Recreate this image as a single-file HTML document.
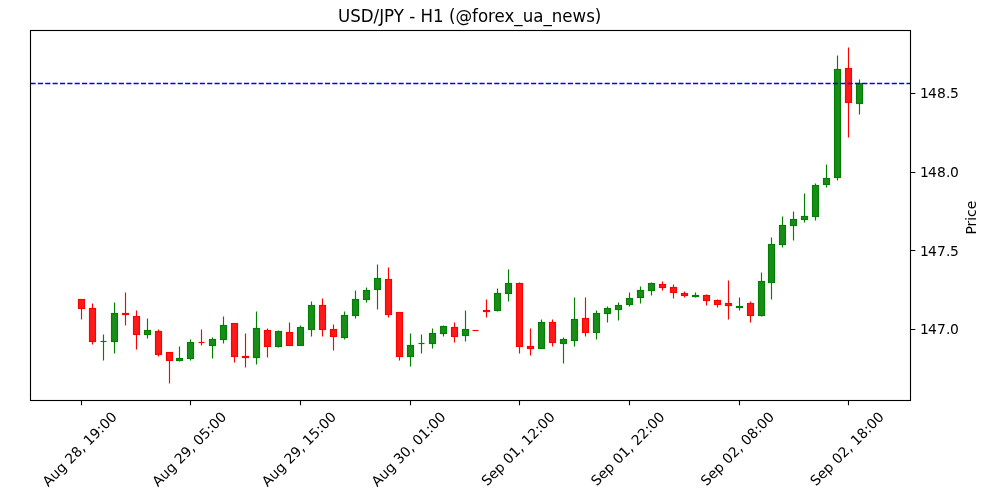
<!DOCTYPE html>
<html lang="en">
<head>
<meta charset="utf-8">
<title>USD/JPY - H1 (@forex_ua_news)</title>
<style>
html,body{margin:0;padding:0;background:#fff;}
body{width:1000px;height:500px;overflow:hidden;}
svg{display:block;will-change:transform;}
text{font-family:"DejaVu Sans", "Liberation Sans", sans-serif;fill:#000;}
.t10{font-size:13.889px;}
.t12{font-size:16.667px;}
.w{stroke-width:1.146;fill:none;}
.b{stroke-width:1.146;fill-opacity:0.9;}
.g{stroke:#008000;fill:#008000;}
.r{stroke:#ff0000;fill:#ff0000;}
.ax{stroke:#000;stroke-width:1.111;fill:none;}
</style>
</head>
<body>
<svg width="1000" height="500" viewBox="0 0 1000 500">
<rect x="0" y="0" width="1000" height="500" fill="#ffffff"/>
<g id="wicks">
<path class="w r" d="M81.5 308.5V319.5"/>
<path class="w r" d="M92.5 303.5V308.5M92.5 341.5V344.5"/>
<path class="w g" d="M103.5 334.5V341.5M103.5 341.5V360.5"/>
<path class="w g" d="M114.5 302.5V313.5M114.5 341.5V353.5"/>
<path class="w r" d="M125.5 292.5V313.5M125.5 314.5V325.5"/>
<path class="w r" d="M136.5 310.5V316.5M136.5 334.5V349.5"/>
<path class="w g" d="M147.5 318.5V330.5M147.5 334.5V338.5"/>
<path class="w r" d="M158.5 329.5V331.5M158.5 354.5V356.5"/>
<path class="w r" d="M169.5 360.5V383.5"/>
<path class="w g" d="M179.5 346.5V358.5M179.5 360.5V361.5"/>
<path class="w g" d="M190.5 339.5V342.5M190.5 358.5V360.5"/>
<path class="w r" d="M201.5 329.5V342.5M201.5 342.5V345.5"/>
<path class="w g" d="M212.5 337.5V339.5M212.5 345.5V358.5"/>
<path class="w g" d="M223.5 316.5V325.5M223.5 339.5V343.5"/>
<path class="w r" d="M234.5 356.5V362.5"/>
<path class="w r" d="M245.5 333.5V356.5M245.5 357.5V367.5"/>
<path class="w g" d="M256.5 311.5V328.5M256.5 357.5V364.5"/>
<path class="w r" d="M267.5 328.5V330.5M267.5 346.5V357.5"/>
<path class="w g" d="M278.5 330.5V331.5M278.5 346.5V347.5"/>
<path class="w r" d="M289.5 322.5V332.5"/>
<path class="w g" d="M300.5 325.5V327.5"/>
<path class="w g" d="M311.5 301.5V305.5M311.5 329.5V336.5"/>
<path class="w r" d="M322.5 298.5V305.5M322.5 329.5V336.5"/>
<path class="w r" d="M333.5 324.5V329.5M333.5 336.5V350.5"/>
<path class="w g" d="M344.5 311.5V315.5M344.5 337.5V339.5"/>
<path class="w g" d="M355.5 290.5V299.5M355.5 315.5V318.5"/>
<path class="w g" d="M366.5 287.5V290.5M366.5 299.5V302.5"/>
<path class="w g" d="M377.5 264.5V278.5M377.5 289.5V309.5"/>
<path class="w r" d="M388.5 267.5V279.5M388.5 314.5V317.5"/>
<path class="w r" d="M399.5 356.5V360.5"/>
<path class="w g" d="M410.5 333.5V345.5M410.5 356.5V366.5"/>
<path class="w g" d="M421.5 334.5V343.5M421.5 343.5V353.5"/>
<path class="w g" d="M432.5 328.5V333.5M432.5 343.5V348.5"/>
<path class="w g" d="M443.5 325.5V326.5M443.5 333.5V336.5"/>
<path class="w r" d="M454.5 322.5V327.5M454.5 336.5V342.5"/>
<path class="w g" d="M465.5 310.5V329.5M465.5 335.5V341.5"/>
<path class="w r" d="M486.5 299.5V310.5M486.5 311.5V317.5"/>
<path class="w g" d="M497.5 288.5V293.5M497.5 310.5V311.5"/>
<path class="w g" d="M508.5 269.5V283.5M508.5 293.5V301.5"/>
<path class="w r" d="M519.5 282.5V283.5M519.5 346.5V353.5"/>
<path class="w r" d="M530.5 328.5V346.5M530.5 348.5V355.5"/>
<path class="w g" d="M541.5 319.5V322.5"/>
<path class="w r" d="M552.5 319.5V322.5M552.5 342.5V346.5"/>
<path class="w g" d="M563.5 337.5V339.5M563.5 343.5V363.5"/>
<path class="w g" d="M574.5 297.5V319.5M574.5 340.5V346.5"/>
<path class="w r" d="M585.5 297.5V318.5M585.5 332.5V336.5"/>
<path class="w g" d="M596.5 310.5V313.5M596.5 332.5V339.5"/>
<path class="w g" d="M607.5 306.5V308.5M607.5 313.5V322.5"/>
<path class="w g" d="M618.5 302.5V305.5M618.5 309.5V320.5"/>
<path class="w g" d="M629.5 292.5V298.5M629.5 304.5V306.5"/>
<path class="w g" d="M640.5 286.5V290.5M640.5 297.5V303.5"/>
<path class="w g" d="M651.5 282.5V283.5M651.5 290.5V295.5"/>
<path class="w r" d="M662.5 281.5V284.5M662.5 287.5V290.5"/>
<path class="w r" d="M673.5 284.5V287.5M673.5 292.5V298.5"/>
<path class="w r" d="M684.5 291.5V293.5M684.5 295.5V297.5"/>
<path class="w g" d="M695.5 292.5V295.5M695.5 296.5V297.5"/>
<path class="w r" d="M706.5 294.5V295.5M706.5 300.5V305.5"/>
<path class="w r" d="M717.5 299.5V300.5M717.5 304.5V307.5"/>
<path class="w r" d="M728.5 280.5V303.5M728.5 305.5V319.5"/>
<path class="w g" d="M739.5 297.5V306.5M739.5 307.5V310.5"/>
<path class="w r" d="M750.5 301.5V303.5M750.5 315.5V322.5"/>
<path class="w g" d="M761.5 272.5V281.5M761.5 315.5V316.5"/>
<path class="w g" d="M771.5 237.5V244.5M771.5 282.5V299.5"/>
<path class="w g" d="M782.5 216.5V225.5M782.5 244.5V247.5"/>
<path class="w g" d="M793.5 211.5V219.5M793.5 225.5V240.5"/>
<path class="w g" d="M804.5 193.5V216.5M804.5 219.5V222.5"/>
<path class="w g" d="M815.5 183.5V185.5M815.5 216.5V220.5"/>
<path class="w g" d="M826.5 164.5V178.5M826.5 184.5V187.5"/>
<path class="w g" d="M837.5 55.5V69.5M837.5 177.5V180.5"/>
<path class="w r" d="M848.5 47.5V68.5M848.5 102.5V137.5"/>
<path class="w g" d="M859.5 79.5V83.5M859.5 103.5V114.5"/>
</g>
<g id="bodies">
<rect class="b r" x="78.5" y="299.5" width="6" height="9"/>
<rect class="b r" x="89.5" y="308.5" width="6" height="33"/>
<path class="w g" d="M100.5 341.5h6"/>
<rect class="b g" x="111.5" y="313.5" width="6" height="28"/>
<rect class="b r" x="122.5" y="313.5" width="6" height="1"/>
<rect class="b r" x="133.5" y="316.5" width="6" height="18"/>
<rect class="b g" x="144.5" y="330.5" width="6" height="4"/>
<rect class="b r" x="155.5" y="331.5" width="6" height="23"/>
<rect class="b r" x="166.5" y="352.5" width="6" height="8"/>
<rect class="b g" x="176.5" y="358.5" width="6" height="2"/>
<rect class="b g" x="187.5" y="342.5" width="6" height="16"/>
<path class="w r" d="M198.5 342.5h6"/>
<rect class="b g" x="209.5" y="339.5" width="6" height="6"/>
<rect class="b g" x="220.5" y="325.5" width="6" height="14"/>
<rect class="b r" x="231.5" y="323.5" width="6" height="33"/>
<rect class="b r" x="242.5" y="356.5" width="6" height="1"/>
<rect class="b g" x="253.5" y="328.5" width="6" height="29"/>
<rect class="b r" x="264.5" y="330.5" width="6" height="16"/>
<rect class="b g" x="275.5" y="331.5" width="6" height="15"/>
<rect class="b r" x="286.5" y="332.5" width="6" height="13"/>
<rect class="b g" x="297.5" y="327.5" width="6" height="18"/>
<rect class="b g" x="308.5" y="305.5" width="6" height="24"/>
<rect class="b r" x="319.5" y="305.5" width="6" height="24"/>
<rect class="b r" x="330.5" y="329.5" width="6" height="7"/>
<rect class="b g" x="341.5" y="315.5" width="6" height="22"/>
<rect class="b g" x="352.5" y="299.5" width="6" height="16"/>
<rect class="b g" x="363.5" y="290.5" width="6" height="9"/>
<rect class="b g" x="374.5" y="278.5" width="6" height="11"/>
<rect class="b r" x="385.5" y="279.5" width="6" height="35"/>
<rect class="b r" x="396.5" y="312.5" width="6" height="44"/>
<rect class="b g" x="407.5" y="345.5" width="6" height="11"/>
<path class="w g" d="M418.5 343.5h6"/>
<rect class="b g" x="429.5" y="333.5" width="6" height="10"/>
<rect class="b g" x="440.5" y="326.5" width="6" height="7"/>
<rect class="b r" x="451.5" y="327.5" width="6" height="9"/>
<rect class="b g" x="462.5" y="329.5" width="6" height="6"/>
<path class="w r" d="M472.5 330.5h6"/>
<rect class="b r" x="483.5" y="310.5" width="6" height="1"/>
<rect class="b g" x="494.5" y="293.5" width="6" height="17"/>
<rect class="b g" x="505.5" y="283.5" width="6" height="10"/>
<rect class="b r" x="516.5" y="283.5" width="6" height="63"/>
<rect class="b r" x="527.5" y="346.5" width="6" height="2"/>
<rect class="b g" x="538.5" y="322.5" width="6" height="26"/>
<rect class="b r" x="549.5" y="322.5" width="6" height="20"/>
<rect class="b g" x="560.5" y="339.5" width="6" height="4"/>
<rect class="b g" x="571.5" y="319.5" width="6" height="21"/>
<rect class="b r" x="582.5" y="318.5" width="6" height="14"/>
<rect class="b g" x="593.5" y="313.5" width="6" height="19"/>
<rect class="b g" x="604.5" y="308.5" width="6" height="5"/>
<rect class="b g" x="615.5" y="305.5" width="6" height="4"/>
<rect class="b g" x="626.5" y="298.5" width="6" height="6"/>
<rect class="b g" x="637.5" y="290.5" width="6" height="7"/>
<rect class="b g" x="648.5" y="283.5" width="6" height="7"/>
<rect class="b r" x="659.5" y="284.5" width="6" height="3"/>
<rect class="b r" x="670.5" y="287.5" width="6" height="5"/>
<rect class="b r" x="681.5" y="293.5" width="6" height="2"/>
<rect class="b g" x="692.5" y="295.5" width="6" height="1"/>
<rect class="b r" x="703.5" y="295.5" width="6" height="5"/>
<rect class="b r" x="714.5" y="300.5" width="6" height="4"/>
<rect class="b r" x="725.5" y="303.5" width="6" height="2"/>
<rect class="b g" x="736.5" y="306.5" width="6" height="1"/>
<rect class="b r" x="747.5" y="303.5" width="6" height="12"/>
<rect class="b g" x="758.5" y="281.5" width="6" height="34"/>
<rect class="b g" x="768.5" y="244.5" width="6" height="38"/>
<rect class="b g" x="779.5" y="225.5" width="6" height="19"/>
<rect class="b g" x="790.5" y="219.5" width="6" height="6"/>
<rect class="b g" x="801.5" y="216.5" width="6" height="3"/>
<rect class="b g" x="812.5" y="185.5" width="6" height="31"/>
<rect class="b g" x="823.5" y="178.5" width="6" height="6"/>
<rect class="b g" x="834.5" y="69.5" width="6" height="108"/>
<rect class="b r" x="845.5" y="68.5" width="6" height="34"/>
<rect class="b g" x="856.5" y="83.5" width="6" height="20"/>
</g>
<line x1="30.5" y1="83.5" x2="910.5" y2="83.5" stroke="#0000ff" stroke-width="1.389" stroke-dasharray="5.139 2.222"/>
<g class="ax">
<path d="M81.5 400.5v4.861M190.5 400.5v4.861M300.5 400.5v4.861M410.5 400.5v4.861M519.5 400.5v4.861M629.5 400.5v4.861M739.5 400.5v4.861M848.5 400.5v4.861M910.5 93.5h4.861M910.5 172.5h4.861M910.5 250.5h4.861M910.5 329.5h4.861"/>
<rect x="30.5" y="30.5" width="880" height="370" stroke-linejoin="miter"/>
</g>
<g class="t10">
<text transform="translate(48.36 487.125) rotate(-45)">Aug 28, 19:00</text>
<text transform="translate(157.99 487.125) rotate(-45)">Aug 29, 05:00</text>
<text transform="translate(267.62 487.125) rotate(-45)">Aug 29, 15:00</text>
<text transform="translate(377.25 487.125) rotate(-45)">Aug 30, 01:00</text>
<text transform="translate(487.212 486.46) rotate(-45)">Sep 01, 12:00</text>
<text transform="translate(596.842 486.46) rotate(-45)">Sep 01, 22:00</text>
<text transform="translate(706.472 486.46) rotate(-45)">Sep 02, 08:00</text>
<text transform="translate(816.102 486.46) rotate(-45)">Sep 02, 18:00</text>
<text x="920 928 937 946 950" y="98">148.5</text>
<text x="920 928 937 946 950" y="177">148.0</text>
<text x="920 928 937 946 950" y="256">147.5</text>
<text x="920 928 937 946 950" y="334">147.0</text>
<text text-anchor="middle" transform="translate(975.792 217.7) rotate(-90)">Price</text>
</g>
<text class="t12" text-anchor="middle" transform="translate(469.65 22) scale(1 1.06)">USD/JPY - H1 (@forex_ua_news)</text>
</svg>
</body>
</html>
